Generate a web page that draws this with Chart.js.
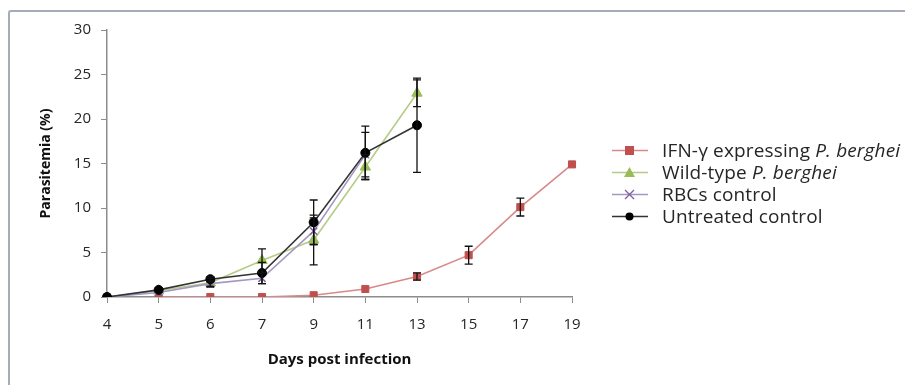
<!DOCTYPE html>
<html>
<head>
<meta charset="utf-8">
<script src="https://cdn.jsdelivr.net/npm/chart.js@4.4.0/dist/chart.umd.min.js"></script>
<style>
  body { margin: 0; background: #fff; }
  #wrap { position: relative; width: 905px; height: 385px; overflow: hidden; }
  #frame { position: absolute; left: 8px; top: 10px; width: 920px; height: 400px;
    border-left: 2px solid #a3acb8; border-top: 2px solid #a3acb8; border-radius: 3px 0 0 0; }
  #legend { position: absolute; left: 612px; top: 139px; font-family: "Open Sans", sans-serif;
    font-size: 19px; color: #262626; letter-spacing: 0.15px; }
  #legend div { height: 22px; line-height: 22px; white-space: nowrap; }
  #legend svg { vertical-align: middle; margin-right: 14px; position: relative; top: -1px; }
</style>
</head>
<body>
<div id="wrap">
  <div id="frame"></div>
  <canvas id="myChart" width="905" height="385"></canvas>
  <div id="legend"></div>
</div>
<script>
// data
const days = ["4", "5", "6", "7", "9", "11", "13", "15", "17", "19"];
const ifnValues = [null, 0, 0, 0, 0.2, 0.9, 2.3, 4.7, 10.1, 14.9];
const ifnErr = [0, 0, 0, 0, 0, 0, 0.4, 1.0, 1.0, 0];
const wildValues = [0, 0.7, 1.6, 4.1, 6.4, 14.6, 22.9, null, null, null];
const wildErr = [0, 0, 0.5, 1.3, 2.8, 1.4, 1.5, 0, 0, 0];
const rbcValues = [0, 0.5, 1.5, 2.1, 7.4, 16.0, null, null, null, null];
const rbcErr = [0, 0, 0.3, 0.6, 1.5, 2.5, 0, 0, 0, 0];
const untreatedValues = [0, 0.8, 2.0, 2.7, 8.4, 16.2, 19.3, null, null, null];
const untreatedErr = [0, 0, 0.3, 1.2, 2.5, 3.0, 5.3, 0, 0, 0];
const yTicks = [0, 5, 10, 15, 20, 25, 30];

// error bars drawn through the chart's scales
const errorBars = {
  id: "errorBars",
  afterDatasetsDraw(chart) {
    const ctx = chart.ctx;
    const x = chart.scales.x, y = chart.scales.y;
    ctx.save();
    ctx.strokeStyle = "#111";
    ctx.lineWidth = 1.3;
    chart.data.datasets.forEach(ds => {
      ds.data.forEach((v, i) => {
        const e = ds.err[i];
        if (v === null || !e) return;
        const px = x.getPixelForValue(i);
        const top = y.getPixelForValue(v + e);
        const bot = y.getPixelForValue(v - e);
        ctx.beginPath();
        ctx.moveTo(px, top); ctx.lineTo(px, bot);
        ctx.moveTo(px - 4, top); ctx.lineTo(px + 4, top);
        ctx.moveTo(px - 4, bot); ctx.lineTo(px + 4, bot);
        ctx.stroke();
      });
    });
    ctx.restore();
  }
};

const series = [
  { label: "IFN-γ expressing ", italic: "P. berghei", data: ifnValues, err: ifnErr,
    line: "#d9898a", color: "#c0504d", style: "rect", radius: 5 },
  { label: "Wild-type ", italic: "P. berghei", data: wildValues, err: wildErr,
    line: "#b5cc86", color: "#9bbb59", style: "triangle", radius: 6 },
  { label: "RBCs control", italic: "", data: rbcValues, err: rbcErr,
    line: "#a497c4", color: "#8064a2", style: "crossRot", radius: 5 },
  { label: "Untreated control", italic: "", data: untreatedValues, err: untreatedErr,
    line: "#333333", color: "#000000", style: "circle", radius: 4.5 }
];

const myChart = document.getElementById("myChart").getContext("2d");
let lineChart = new Chart(myChart, {
  type: "line",
  data: {
    labels: days,
    datasets: series.map(s => ({
      label: s.label + s.italic,
      data: s.data,
      err: s.err,
      borderColor: s.line,
      borderWidth: 1.6,
      pointStyle: s.style,
      pointRadius: s.radius,
      pointBackgroundColor: s.color,
      pointBorderColor: s.color,
      pointBorderWidth: s.style === "crossRot" ? 1.5 : 1,
      spanGaps: false,
      tension: 0
    })).reverse()
  },
  options: {
    responsive: false,
    animation: false,
    layout: { padding: { top: 30, right: 333, left: 0, bottom: 0 } },
    plugins: { legend: { display: false }, tooltip: { enabled: false } },
    scales: {
      x: {
        offset: false,
        afterFit: scale => { scale.height = 88; },
        grid: { display: true, drawOnChartArea: false, drawTicks: true, tickLength: 6, color: "#8c8c8c" },
        border: { display: true, color: "#8c8c8c", width: 1.5 },
        ticks: { color: "#262626", font: { family: "Open Sans", size: 15 }, padding: 13, maxRotation: 0 },
        title: { display: true, text: "Days post infection", color: "#111",
          font: { family: "Open Sans", size: 15, weight: "bold" }, padding: { top: 4, bottom: 16 } }
      },
      y: {
        min: 0, max: 30,
        afterFit: scale => { scale.width = 107; },
        afterBuildTicks: scale => { scale.ticks = yTicks.map(v => ({ value: v })); },
        grid: { display: true, drawOnChartArea: false, drawTicks: true, tickLength: 6, color: "#8c8c8c" },
        border: { display: true, color: "#8c8c8c", width: 1.5 },
        ticks: { color: "#262626", font: { family: "Open Sans", size: 15 }, padding: 10 },
        title: { display: true, text: "Parasitemia (%)", color: "#111",
          font: { family: "Open Sans", size: 14, weight: "bold" }, padding: { top: 38, bottom: 0 } }
      }
    }
  },
  plugins: [errorBars]
});

// legend with line + marker swatches
function swatch(s) {
  let mark = "";
  if (s.style === "rect") mark = `<rect x="13" y="4" width="9" height="9" fill="${s.color}"/>`;
  if (s.style === "triangle") mark = `<polygon points="17.5,3 23,13 12,13" fill="${s.color}"/>`;
  if (s.style === "crossRot") mark = `<path d="M13,4 L22,13 M22,4 L13,13" stroke="${s.color}" stroke-width="1.4"/>`;
  if (s.style === "circle") mark = `<circle cx="17.5" cy="8.5" r="4" fill="${s.color}"/>`;
  return `<svg width="36" height="17"><line x1="0" y1="8.5" x2="36" y2="8.5" stroke="${s.line}" stroke-width="1.6"/>${mark}</svg>`;
}
let html = "";
series.forEach(s => {
  html += "<div>" + swatch(s) + s.label + (s.italic ? "<i>" + s.italic + "</i>" : "") + "</div>";
});
document.getElementById("legend").innerHTML = html;
</script>
</body>
</html>
